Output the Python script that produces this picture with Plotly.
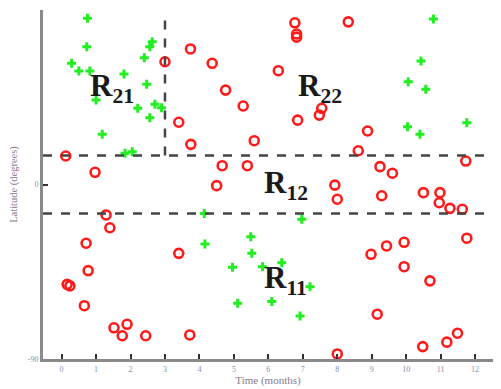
import plotly.graph_objects as go

# Green (+) samples
green_x = [0.75, 0.73, 0.29, 0.50, 0.82, 1.00, 1.18, 1.81, 2.47, 2.40, 2.56, 2.63, 2.21, 2.71, 2.90, 2.56, 1.84, 2.05,
           10.79, 10.43, 10.06, 10.57, 10.04, 10.40, 11.76,
           4.14, 4.16, 5.49, 5.52, 4.96, 5.11, 5.83, 6.39, 7.21, 6.10, 6.92, 6.97]
green_y = [85.7, 71.1, 62.5, 58.5, 58.5, 43.6, 25.9, 57.0, 51.7, 65.4, 71.1, 73.6, 39.3, 41.4, 39.6, 34.4, 16.1, 16.9,
           85.4, 63.7, 53.0, 49.1, 29.8, 25.9, 31.9,
           -14.9, -30.7, -26.9, -35.5, -42.7, -61.3, -42.4, -40.3, -52.7, -60.4, -67.8, -17.9]

# Red (o) samples
red_x = [3.00, 3.74, 4.37, 4.76, 5.27, 5.59, 3.40, 3.75, 0.12, 0.97, 4.66, 5.39,
         6.77, 6.82, 6.82, 8.32, 6.29, 7.55, 7.48, 6.85, 8.88, 8.61, 9.24, 9.60, 11.73,
         4.50, 1.29, 1.40, 0.71, 0.77, 0.16, 0.24, 0.66, 1.52, 1.90, 1.76, 2.44, 3.72, 3.40,
         7.93, 8.00, 9.29, 10.50, 10.98, 10.96, 11.27, 11.63, 11.76, 8.98, 9.43, 9.94, 9.94,
         10.69, 9.16, 8.00, 10.48, 11.18, 11.49]
red_y = [63.3, 69.9, 62.5, 48.7, 40.5, 22.6, 32.1, 20.7, 14.7, 6.3, 9.7, 9.7,
         83.4, 77.6, 76.0, 83.9, 58.7, 39.3, 35.8, 33.2, 27.6, 17.4, 9.2, 5.8, 12.1,
         -0.6, -15.7, -22.3, -30.3, -44.4, -51.5, -52.3, -62.5, -73.9, -72.1, -78.0, -78.0, -77.6, -35.5,
         -0.3, -7.6, -5.8, -4.2, -4.2, -9.4, -12.3, -12.8, -27.7, -36.0, -31.7, -29.8, -42.4,
         -49.7, -66.9, -87.4, -83.6, -81.3, -76.7]

# Region boundaries and labels
h_lines = [15, -15]
v_line_x = 3
v_line_y = [15, 88]
region_labels = ["R<sub>21</sub>", "R<sub>22</sub>", "R<sub>12</sub>", "R<sub>11</sub>"]
region_x = [1.46, 7.5, 6.5, 6.5]
region_y = [50, 50, 0, -49]

x_ticks = list(range(0, 13))
y_ticks = [-90, 0, 90]
y_ticktext = ["-90", "0", "90"]

fig = go.Figure()
fig.add_trace(go.Scatter(x=red_x, y=red_y, mode="markers",
                         marker=dict(symbol="circle-open", size=9, color="#ff1a1a",
                                     line=dict(width=2.6, color="#ff1a1a")),
                         showlegend=False))
fig.add_trace(go.Scatter(x=green_x, y=green_y, mode="markers",
                         marker=dict(symbol="cross", size=7.5, color="#22ee22",
                                     line=dict(width=0)),
                         showlegend=False))

xmin, xmax = -0.54, 12.52
for hy in h_lines:
    fig.add_shape(type="line", x0=xmin, x1=12.65, y0=hy, y1=hy, xref="x", yref="y",
                  line=dict(color="#444444", width=2.5, dash="dash"))
fig.add_shape(type="line", x0=v_line_x, x1=v_line_x, y0=v_line_y[0], y1=v_line_y[1], xref="x", yref="y",
              line=dict(color="#444444", width=2.5, dash="dash"))

for t, x, y in zip(region_labels, region_x, region_y):
    fig.add_annotation(x=x, y=y, text="<b>" + t + "</b>", showarrow=False,
                       font=dict(family="Liberation Serif", size=31, color="#1a1a1a"))

# The page body adds an 8px margin, so the figure is sized to fit the 501x389 window.
fig.update_layout(
    width=493, height=381,
    margin=dict(l=35, r=8, t=2, b=30),
    plot_bgcolor="white", paper_bgcolor="white",
    xaxis=dict(range=[xmin, xmax], tickvals=x_ticks, showgrid=False, zeroline=False, automargin=False,
               showline=True, linecolor="#8a8a8a", linewidth=3,
               ticks="inside", ticklen=5, tickwidth=2, tickcolor="#333333",
               tickfont=dict(size=8, color="#7f8fb0", family="Liberation Serif"),
               title=dict(text="Time (months)", font=dict(size=11, color="#8a7a8f", family="Liberation Serif"),
                          standoff=1)),
    yaxis=dict(range=[-90, 90], tickvals=y_ticks, ticktext=y_ticktext, showgrid=False, zeroline=False,
               automargin=False,
               showline=True, linecolor="#8a8a8a", linewidth=3,
               ticks="inside", ticklen=5, tickwidth=2, tickcolor="#333333",
               tickfont=dict(size=8, color="#7f8fb0", family="Liberation Serif"),
               title=dict(text="Latitude (degrees)", font=dict(size=10.5, color="#8a7a8f", family="Liberation Serif"),
                          standoff=10)),
)

fig.write_html("out.html")
